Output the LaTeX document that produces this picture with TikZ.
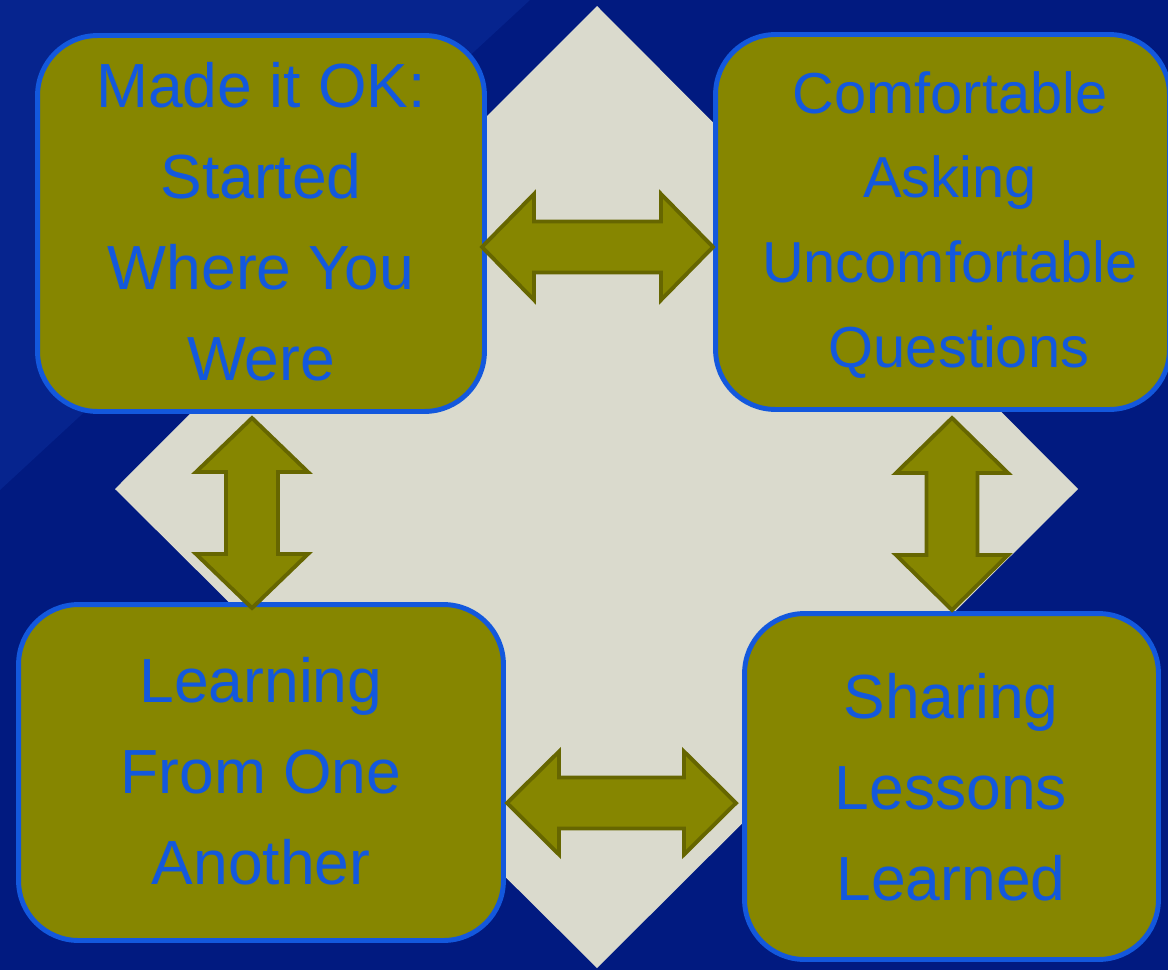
\documentclass[tikz,border=0pt]{standalone}
\usepackage{fontspec}
\setmainfont{Liberation Sans}
\usetikzlibrary{calc}
\definecolor{bgblue}{RGB}{1,26,128}
\definecolor{bglight}{RGB}{6,36,142}
\definecolor{diam}{RGB}{218,218,205}
\definecolor{boxolive}{RGB}{134,134,0}
\definecolor{olivedark}{RGB}{102,102,0}
\definecolor{txtblue}{RGB}{19,88,221}
\tikzset{
  box/.style={draw=txtblue, line width=2.8pt, fill=boxolive, rounded corners=1.2cm, inner sep=0pt, outer sep=0pt},
  lbl/.style={text=txtblue, align=center, inner sep=0pt, anchor=base},
  bigfont/.style={font=\fontsize{35.5pt}{51.7pt}\selectfont},
  smallfont/.style={font=\fontsize{32.9pt}{48.1pt}\selectfont},
  blockarrow/.style={fill=boxolive, draw=olivedark, line width=2.2pt, line join=miter},
}
\newcommand\HArrow[5]{%
  \draw[blockarrow] (#1) -- ($(#1)+(#3,-#4)$) -- ($(#1)+(#3,-#5)$) -- ($(#2)+(-#3,-#5)$) -- ($(#2)+(-#3,-#4)$) -- (#2)
   -- ($(#2)+(-#3,#4)$) -- ($(#2)+(-#3,#5)$) -- ($(#1)+(#3,#5)$) -- ($(#1)+(#3,#4)$) -- cycle;}
\newcommand\VArrow[5]{%
  \draw[blockarrow] (#1) -- ($(#1)+(#4,#3)$) -- ($(#1)+(#5,#3)$) -- ($(#2)+(#5,-#3)$) -- ($(#2)+(#4,-#3)$) -- (#2)
   -- ($(#2)+(-#4,-#3)$) -- ($(#2)+(-#5,-#3)$) -- ($(#1)+(-#5,#3)$) -- ($(#1)+(-#4,#3)$) -- cycle;}
\begin{document}
\begin{tikzpicture}[x=0.02cm,y=-0.02cm]
\useasboundingbox (0,0) rectangle (1168,970);
% background
\fill[bgblue] (0,0) rectangle (1168,970);
\fill[bglight] (0,0) -- (530,0) -- (0,490) -- cycle;
% diamond
\fill[diam] (597,6) -- (1078,489) -- (597,968) -- (115,489) -- cycle;
% boxes
\node[box, minimum width=8.94cm, minimum height=7.52cm] (TL) at (261,223.5) {};
\node[box, minimum width=9.08cm, minimum height=7.5cm] (TR) at (942.5,222) {};
\node[box, minimum width=9.7cm, minimum height=6.72cm] (BL) at (261,772.5) {};
\node[box, minimum width=8.28cm, minimum height=6.92cm] (BR) at (951.5,786.5) {};
% texts (anchor base = last line)
\node[lbl, bigfont] (tTL) at (261,380) {Made it OK:\\Started\\Where You\\Were};
\node[lbl, smallfont] (tTR) at (950,367) {Comfortable\\Asking\\Uncomfortable\\\hspace*{0.36cm}Questions};
\node[lbl, bigfont] (tBL) at (261,884) {Learning\\From One\\Another};
\node[lbl, bigfont] (tBR) at (951,900) {Sharing\\Lessons\\Learned};
% arrow tips
\coordinate (hTa) at (482,247);
\coordinate (hTb) at (713,247);
\coordinate (hBa) at (507,803);
\coordinate (hBb) at (736,803);
\coordinate (vLa) at (252,418);
\coordinate (vLb) at (252,608);
\coordinate (vRa) at (952,418);
\coordinate (vRb) at (952,610);
\HArrow{hTa}{hTb}{52}{53}{25.5}
\HArrow{hBa}{hBb}{52}{51.5}{25.5}
\VArrow{vLa}{vLb}{54}{56}{26}
\VArrow{vRa}{vRb}{55}{56}{25.5}
\end{tikzpicture}
\end{document}
